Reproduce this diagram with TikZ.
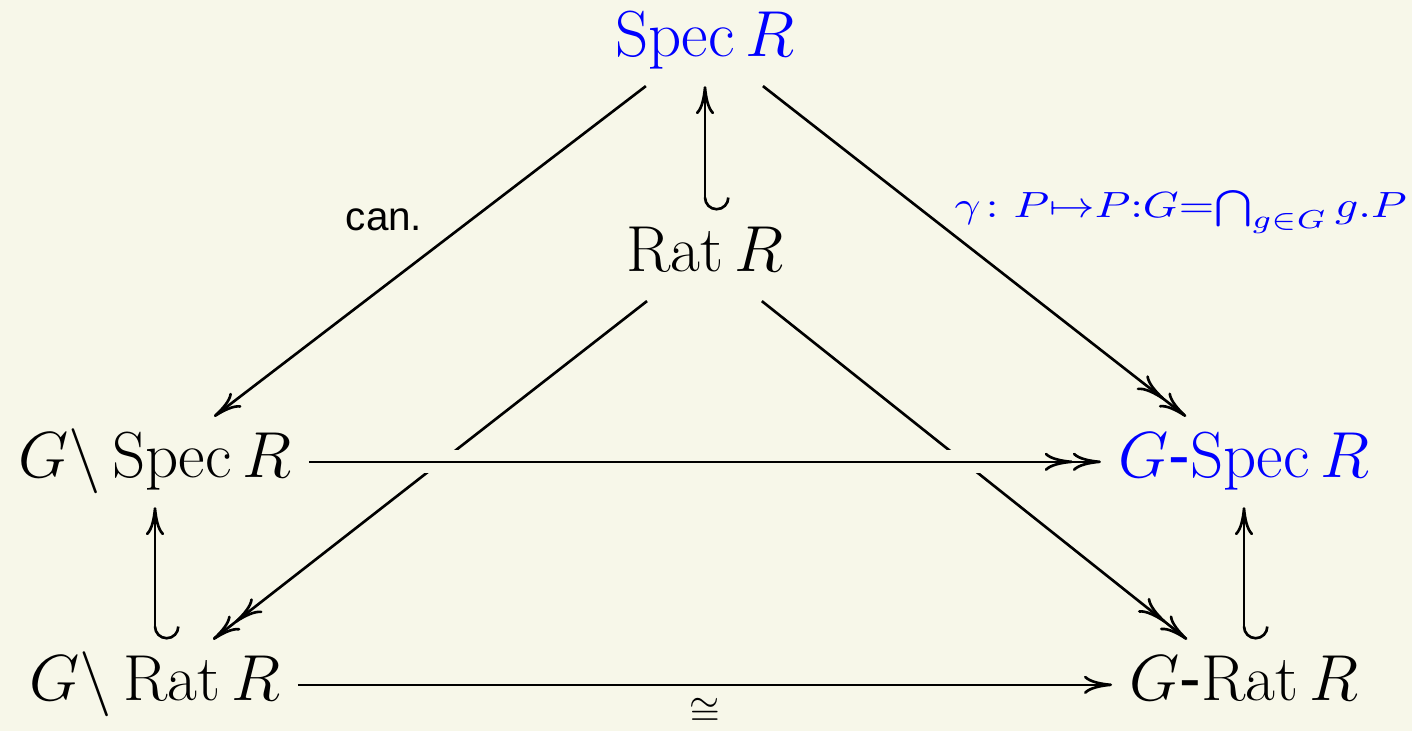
\RequirePackage{fix-cm}
\documentclass[tikz,border=0pt]{standalone}
\usepackage{amsmath, amssymb}
\usepackage{graphicx}
\usepackage{fontspec}
\setsansfont{Liberation Sans}
\usepackage{tikz}
\usetikzlibrary{arrows.meta}

\definecolor{bgcream}{RGB}{247,247,233}

\tikzset{
	obj/.style={anchor=base, text height=13.8pt, text depth=4.6pt, inner xsep=4.6pt, inner ysep=3.3pt, font=\fontsize{18.5}{22}\selectfont},
	plainarr/.style={-{Computer Modern Rightarrow[length=8pt,width=5.2pt]}},
	ontoarr/.style={-{Computer Modern Rightarrow[length=8pt,width=5.2pt] Computer Modern Rightarrow[length=8pt,width=5.2pt]}},
	hookarr/.style={{Hooks[left,length=3.7pt,width=14pt]}-{Computer Modern Rightarrow[length=8pt,width=5.2pt]}}
}

\begin{document}
\begin{tikzpicture}[x=0.01cm, y=-0.01cm, line width=0.75pt]
	% Hintergrund
	\fill[bgcream] (0,0) rectangle (1412,731);
	\useasboundingbox (0,0) rectangle (1412,731);
	% Objekte
	\node[obj, blue] (spec)  at (705,57)  {$\operatorname{Spec}R$};
	\node[obj]       (rat)   at (705,272) {$\operatorname{Rat}R$};
	\node[obj]       (qspec) at (155,478) {$G\backslash\operatorname{Spec}R$};
	\node[obj, blue] (gspec) at (1244,478) {$G\text{\sffamily -}\mathrm{Spec}\,R$};
	\node[obj]       (qrat)  at (155,701) {$G\backslash\operatorname{Rat}R$};
	\node[obj]       (grat)  at (1244,701) {$G\text{\sffamily -}\mathrm{Rat}\,R$};
	% Pfeile
	\draw[plainarr] (spec) -- (qspec) node[midway, above left, xshift=1.5pt, yshift=2pt, font=\sffamily\fontsize{11.5}{14}\selectfont] (can) {can.};
	\draw[ontoarr] (spec) -- (gspec) node[pos=0.45, anchor=south west, inner sep=0pt, blue, font=\fontsize{14.8}{17}\selectfont] (gamma)
		{\scalebox{1.25}[1]{$\scriptstyle\gamma\colon P\mapsto P:G=\bigcap_{g\in G}g.P$}};
	\draw[hookarr] (rat) -- (spec);
	\draw[ontoarr] (rat) -- (qrat);
	\draw[ontoarr] (rat) -- (grat);
	\draw[hookarr] (qrat) -- (qspec);
	\draw[hookarr] (grat) -- (gspec);
	% Kreuzung ueberdecken
	\draw[ontoarr, preaction={draw=bgcream, line width=6.5pt, arrows=-}] (qspec) -- (gspec);
	\draw[plainarr] (qrat) -- (grat) node[midway, below, inner sep=2pt, yshift=-1.5pt, font=\fontsize{11}{13}\selectfont] (iso) {$\cong$};
\end{tikzpicture}
\end{document}
